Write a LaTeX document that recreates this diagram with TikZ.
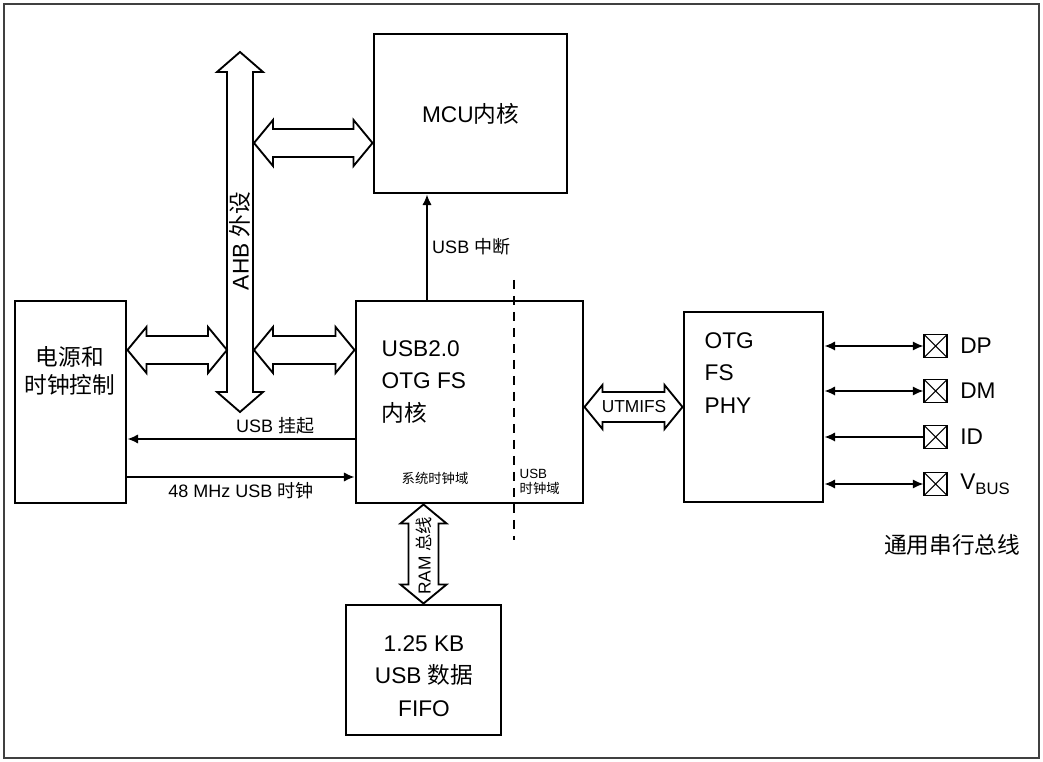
\documentclass[tikz,border=0pt]{standalone}
\usepackage{fontspec}
\setmainfont{Liberation Sans}
\newfontfamily\cjk{Noto Sans CJK SC}
\usetikzlibrary{positioning,arrows.meta,calc}

\newcommand\zh[1]{{\cjk #1}}
% fat bus arrows, sizes in px: from, to, shaft half width, head half width, head length
\newcommand\hbus[5]{%
  \draw[bus] let \p1=#1, \p2=#2 in
    (\x1,\y1) -- (\x1+#5*0.75pt,\y1+#4*0.75pt) -- (\x1+#5*0.75pt,\y1+#3*0.75pt)
    -- (\x2-#5*0.75pt,\y1+#3*0.75pt) -- (\x2-#5*0.75pt,\y1+#4*0.75pt) -- (\x2,\y1)
    -- (\x2-#5*0.75pt,\y1-#4*0.75pt) -- (\x2-#5*0.75pt,\y1-#3*0.75pt)
    -- (\x1+#5*0.75pt,\y1-#3*0.75pt) -- (\x1+#5*0.75pt,\y1-#4*0.75pt) -- cycle;}
\newcommand\vbus[5]{%
  \draw[bus] let \p1=#1, \p2=#2 in
    (\x1,\y1) -- (\x1+#4*0.75pt,\y1-#5*0.75pt) -- (\x1+#3*0.75pt,\y1-#5*0.75pt)
    -- (\x1+#3*0.75pt,\y2+#5*0.75pt) -- (\x1+#4*0.75pt,\y2+#5*0.75pt) -- (\x1,\y2)
    -- (\x1-#4*0.75pt,\y2+#5*0.75pt) -- (\x1-#3*0.75pt,\y2+#5*0.75pt)
    -- (\x1-#3*0.75pt,\y1-#5*0.75pt) -- (\x1-#4*0.75pt,\y1-#5*0.75pt) -- cycle;}

\begin{document}
\begin{tikzpicture}[x=0.75pt, y=-0.75pt,
  blk/.style={draw, line width=2.2pt, rectangle, inner sep=0pt},
  bus/.style={draw, line width=1.4pt, fill=white, line join=miter},
  sig/.style={line width=1.2pt},
  tip/.style={-{Latex[length=8pt,width=7pt]}},
  bitip/.style={{Latex[length=8pt,width=7pt]}-{Latex[length=8pt,width=7pt]}},
  bigtxt/.style={font=\fontsize{17}{20}\selectfont},
  stacktxt/.style={font=\fontsize{17}{24.4}\selectfont},
  midtxt/.style={font=\fontsize{13.5}{16}\selectfont},
  smalltxt/.style={font=\fontsize{10}{11.5}\selectfont},
  padbox/.style={draw, line width=1.1pt, minimum size=17pt, inner sep=0pt,
    path picture={\draw[line width=0.8pt]
      (path picture bounding box.south west) -- (path picture bounding box.north east)
      (path picture bounding box.north west) -- (path picture bounding box.south east);}}
]

  % Frame
  \useasboundingbox (0,0) rectangle (1043,762);
  \draw[black!75, line width=0.8pt] (4,4) rectangle (1039,758);

  % MCU core
  \node[blk, bigtxt, minimum width=144.75pt, minimum height=119.25pt] (mcu) at (470.5,113.5) {MCU\zh{内核}};

  % USB OTG FS core
  \node[blk, minimum width=170.25pt, minimum height=151.5pt] (otgcore) at (469.5,402) {};
  \node[stacktxt, align=left, anchor=west] (coretxt) at (377,382) {USB2.0\\OTG FS\\\zh{内核}};
  \node[smalltxt] (sysclk) at (435,478) {\zh{系统时钟域}};
  \node[smalltxt, align=left, anchor=west] (usbclk) at (515,482) {USB\\\zh{时钟域}};

  % Power and clock control
  \node[blk, minimum width=83.25pt, minimum height=151.5pt] (pwrclk) at (70.5,402) {};
  \node[font=\fontsize{17}{21}\selectfont, align=center] (pwrtxt) at (70,371) {\zh{电源和}\\\zh{时钟控制}};

  % PHY
  \node[blk, minimum width=104.25pt, minimum height=142.5pt] (phy) at (753.5,407) {};
  \node[stacktxt, align=left, anchor=west] (phytxt) at (700,373) {OTG\\FS\\PHY};

  % FIFO
  \node[blk, minimum width=116.25pt, minimum height=97.5pt] (fifo) at (423.5,670) {};
  \node[stacktxt, align=center] (fifotxt) at (424,676) {1.25 KB\\USB \zh{数据}\\FIFO};

  % AHB bus
  \coordinate (ahbtop) at (240,52);
  \coordinate (ahbbot) at (240,412);
  \coordinate (ahbW) at (227,350);
  \coordinate (ahbE) at (254,350);
  \coordinate (ahbEm) at (254,143);
  \vbus{(ahbtop)}{(ahbbot)}{13}{23}{20}
  \node[bigtxt, rotate=90] (ahbtxt) at (240,241) {AHB \zh{外设}};

  \hbus{(ahbEm)}{(mcu.west |- ahbEm)}{14}{23}{19}
  \hbus{(pwrclk.east |- ahbW)}{(ahbW)}{14}{23}{19}
  \hbus{(ahbE)}{(otgcore.west |- ahbE)}{14}{23}{19}

  % UTMIFS
  \hbus{(otgcore.east |- phy.west)}{(phy.west)}{15}{22}{18}
  \node[font=\fontsize{13}{15}\selectfont] (utmi) at (634,407) {UTMIFS};

  % RAM bus
  \vbus{(fifo.north |- otgcore.south)}{(fifo.north)}{15}{23}{19}
  \node[font=\fontsize{13}{15}\selectfont, rotate=90] (ramtxt) at (424,556) {RAM \zh{总线}};

  % Clock domain border
  \draw[line width=1.6pt, dash pattern=on 7pt off 5pt] (514,280) -- (514,540);

  % Interrupt
  \coordinate (irq) at (427,0);
  \draw[sig, tip] (irq |- otgcore.north) -- (irq |- mcu.south)
    node[midway, right, midtxt] {USB \zh{中断}};

  % Suspend and 48 MHz clock
  \coordinate (suspend) at (0,439);
  \coordinate (clk48) at (0,477);
  \draw[sig, tip] (otgcore.west |- suspend) -- (pwrclk.east |- suspend)
    node[pos=0.35, above, midtxt] {USB \zh{挂起}};
  \draw[sig, tip] (pwrclk.east |- clk48) -- (otgcore.west |- clk48)
    node[midway, below, midtxt] {48 MHz USB \zh{时钟}};

  % USB pins
  \node[padbox] (dp) at (935.5,346) {};
  \node[padbox] (dm) at (935.5,391) {};
  \node[padbox] (id) at (935.5,437) {};
  \node[padbox] (vbus) at (935.5,484) {};
  \node[bigtxt, right=6pt of dp] (dptxt) {DP};
  \node[bigtxt, right=6pt of dm] (dmtxt) {DM};
  \node[bigtxt, right=6pt of id] (idtxt) {ID};
  \node[bigtxt, right=6pt of vbus] (vbustxt) {V\raisebox{-0.45ex}{\fontsize{12.5}{14}\selectfont BUS}};
  \draw[sig, bitip] (phy.east |- dp) -- (dp.west);
  \draw[sig, bitip] (phy.east |- dm) -- (dm.west);
  \draw[sig, tip] (id.west) -- (phy.east |- id);
  \draw[sig, bitip] (phy.east |- vbus) -- (vbus.west);

  \node[bigtxt] (usbtxt) at (952,545) {\zh{通用串行总线}};

\end{tikzpicture}
\end{document}
